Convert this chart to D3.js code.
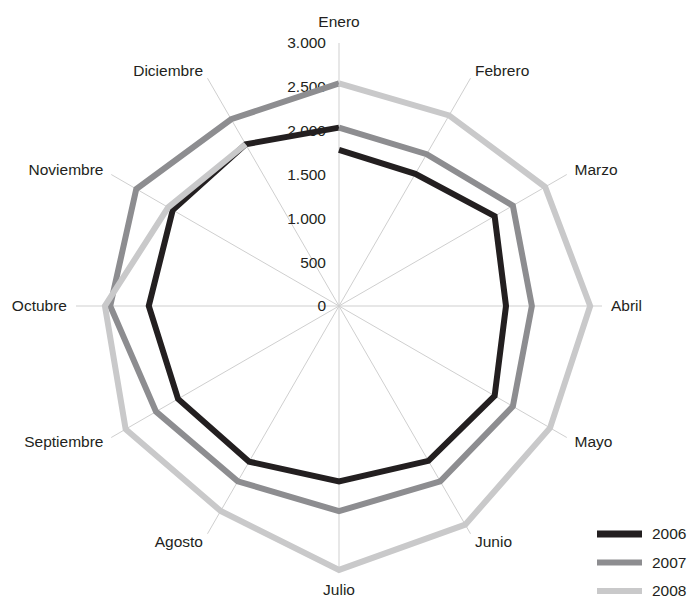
<!DOCTYPE html>
<html>
<head>
<meta charset="utf-8">
<script src="https://cdn.jsdelivr.net/npm/d3@7"></script>
<style>
  html, body { margin: 0; padding: 0; background: #fff; }
  svg { display: block; font-family: "Liberation Sans", Arial, sans-serif; }
</style>
</head>
<body>
<svg id="chart" width="688" height="599"></svg>
<script>
// Monthly values per year (the series run on from one year into the next)
const months = ["Enero", "Febrero", "Marzo", "Abril", "Mayo", "Junio",
                "Julio", "Agosto", "Septiembre", "Octubre", "Noviembre", "Diciembre"];
const years = ["2006", "2007", "2008"];
const values2006 = [1780, 1740, 2050, 1905, 2050, 2040, 2000, 2050, 2120, 2170, 2190, 2130];
const values2007 = [2035, 2000, 2290, 2200, 2290, 2310, 2340, 2310, 2410, 2610, 2670, 2460];
const values2008 = [2540, 2510, 2715, 2865, 2780, 2880, 3010, 2700, 2810, 2670, 2250, 2130];
const tickValues = [0, 500, 1000, 1500, 2000, 2500, 3000];
const seriesValues = [values2006, values2007, values2008];
const colors = ["#231f20", "#8d8d90", "#c9c9ca"];

const cx = 339, cy = 306, R = 263;
const svg = d3.select("#chart");

const r = d3.scaleLinear().domain([0, 3000]).range([0, R]);
const angle = d3.scalePoint().domain(months).range([0, 2 * Math.PI]).padding(0);
// scalePoint over a full turn would put the last month on the first; use band-like step
const step = 2 * Math.PI / months.length;
const ang = m => months.indexOf(m) * step;

const g = svg.append("g").attr("transform", `translate(${cx},${cy})`);

// Spokes
g.append("g").selectAll("line")
  .data(months)
  .join("line")
  .attr("x1", 0).attr("y1", 0)
  .attr("x2", m => r(3000) * Math.sin(ang(m)))
  .attr("y2", m => -r(3000) * Math.cos(ang(m)))
  .attr("stroke", "#cfcfcf")
  .attr("stroke-width", 1);

// Radial value axis along the Enero spoke
const es = d3.formatLocale({ decimal: ",", thousands: ".", grouping: [3], currency: ["", "€"] });
const yAxisScale = d3.scaleLinear().domain([0, 3000]).range([0, -R]);
const axis = g.append("g")
  .call(d3.axisLeft(yAxisScale).tickValues(tickValues).tickSize(0).tickPadding(13)
        .tickFormat(es.format(",d")));
axis.select(".domain").remove();
axis.selectAll("text")
  .attr("font-size", "15.5px")
  .attr("font-family", "Liberation Sans, Arial, sans-serif")
  .attr("fill", "#231f20");

// Month labels
g.append("g").selectAll("text")
  .data(months)
  .join("text")
  .each(function (m) {
    const a = ang(m);
    const s = Math.sin(a), c = Math.cos(a);
    const vertical = Math.abs(s) < 0.01;
    const rr = vertical ? 284 : 272;
    d3.select(this)
      .attr("x", rr * s)
      .attr("y", -rr * c)
      .attr("text-anchor", vertical ? "middle" : (s > 0 ? "start" : "end"));
  })
  .attr("dy", "0.35em")
  .attr("font-size", "15.5px")
  .attr("fill", "#231f20")
  .text(m => m);

// Series: each year continues into January of the following year
const radial = d3.lineRadial()
  .angle(d => d.a)
  .radius(d => r(d.v))
  .curve(d3.curveLinear);

seriesValues.forEach((vals, i) => {
  const pts = vals.map((v, j) => ({ a: j * step, v }));
  if (i + 1 < seriesValues.length) {
    pts.push({ a: 2 * Math.PI, v: seriesValues[i + 1][0] });
  }
  g.append("path")
    .datum(pts)
    .attr("d", radial)
    .attr("fill", "none")
    .attr("stroke", colors[i])
    .attr("stroke-width", 6)
    .attr("stroke-linejoin", "miter")
    .attr("stroke-linecap", "butt");
});

// Legend
const legend = svg.append("g").attr("transform", "translate(597,534)");
const li = legend.selectAll("g")
  .data(years)
  .join("g")
  .attr("transform", (d, i) => `translate(0,${i * 28.5})`);
li.append("line")
  .attr("x1", 0).attr("x2", 45)
  .attr("y1", 0).attr("y2", 0)
  .attr("stroke", (d, i) => colors[i])
  .attr("stroke-width", (d, i) => i === 0 ? 7 : 6);
li.append("text")
  .attr("x", 55).attr("y", 0).attr("dy", "0.35em")
  .attr("font-size", "15.5px")
  .attr("fill", "#231f20")
  .text(d => d);
</script>
</body>
</html>
